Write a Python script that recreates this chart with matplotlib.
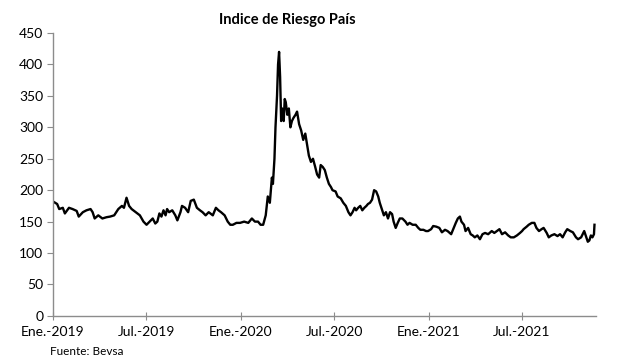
import matplotlib
matplotlib.use("Agg")
import matplotlib.pyplot as plt
import matplotlib.dates as mdates
import pandas as pd

# Days elapsed since 2019-01-01 and index values
days = [0, 8, 12, 19, 23, 31, 38, 46, 50, 58, 65, 73, 77, 81, 88, 96, 104, 111, 119, 127,
        134, 138, 143, 148, 153, 161, 169, 176, 182, 188, 194, 199, 203, 207, 211, 215, 219,
        222, 226, 232, 238, 242, 248, 251, 257, 263, 268, 274, 280, 286, 291, 297, 303, 311,
        317, 322, 327, 334, 340, 345, 350, 357, 364,
        372, 380, 387, 393, 399, 404, 409, 414, 418, 422, 426, 428, 431, 433, 436, 438, 440,
        442, 444, 446, 449, 451, 453, 456, 459, 462, 465, 468, 472, 475, 479, 483, 487, 491,
        495, 498, 502, 506, 510, 514, 518, 521, 525, 529, 533, 537, 541, 544, 550, 554, 560,
        565, 570, 575, 579, 583, 587, 590, 594, 598, 602, 606, 610, 613, 617, 621, 625, 629,
        633, 636, 640, 644, 648, 652, 656, 660, 663, 667, 671, 675, 680, 686, 690, 694, 700,
        706, 711, 715, 721, 726, 730,
        736, 740, 746, 752, 757, 763, 768, 775, 780, 784, 788, 792, 795, 800, 803, 808, 813,
        817, 821, 826, 831, 836, 841, 847, 854, 859, 864, 869, 874, 880, 886, 891, 897, 903,
        909, 913, 916, 922, 926, 932, 937, 941, 946, 951, 955, 961, 965, 970, 976, 982, 987,
        992, 997, 1001, 1007, 1012, 1018, 1022, 1028, 1031, 1034, 1038, 1041, 1044, 1047,
        1050, 1053, 1054]
values = [182, 178, 170, 172, 163, 172, 170, 167, 158, 165, 168, 170, 165, 155, 160, 155, 157,
          158, 160, 170, 175, 172, 188, 175, 170, 165, 160, 150, 145, 150, 155, 147, 150, 163,
          158, 168, 160, 170, 165, 168, 160, 152, 165, 175, 172, 165, 183, 185, 172, 168, 165,
          160, 165, 160, 172, 168, 165, 160, 150, 145, 145, 148, 148,
          150, 148, 155, 150, 150, 145, 145, 160, 190, 180, 220, 210, 250, 300, 350, 400, 420,
          380, 310, 330, 310, 345, 340, 320, 330, 300, 310, 315, 320, 325, 305, 295, 280, 290,
          270, 255, 245, 250, 238, 225, 220, 240, 237, 232, 220, 210, 205, 200, 198, 190, 187,
          180, 175, 165, 160, 165, 172, 168, 172, 175, 168, 172, 175, 178, 180, 185, 200, 198,
          190, 180, 170, 160, 165, 155, 165, 162, 150, 140, 148, 155, 155, 150, 145, 148, 145,
          145, 140, 137, 137, 135, 135,
          138, 143, 142, 140, 133, 137, 135, 130, 140, 148, 155, 158, 150, 145, 135, 140, 130,
          128, 125, 128, 122, 130, 132, 130, 135, 132, 135, 138, 130, 133, 128, 125, 125, 128,
          132, 135, 138, 142, 145, 148, 148, 140, 135, 138, 140, 132, 125, 128, 130, 127, 130,
          125, 133, 138, 135, 133, 125, 122, 125, 130, 135, 125, 118, 120, 128, 125, 130, 145]

tick_dates = ["2019-01-01", "2019-07-01", "2020-01-01", "2020-07-01", "2021-01-01", "2021-07-01"]
tick_labels = ["Ene.-2019", "Jul.-2019", "Ene.-2020", "Jul.-2020", "Ene.-2021", "Jul.-2021"]
y_ticks = [0, 50, 100, 150, 200, 250, 300, 350, 400, 450]

start = pd.Timestamp("2019-01-01")
dates = start + pd.to_timedelta(days, unit="D")

plt.rcParams['font.family'] = ['Lato', 'DejaVu Sans']

fig = plt.figure(figsize=(6.17, 3.59), dpi=100)
ax = fig.add_axes([0.086, 0.12, 0.880, 0.788])
ax.plot(dates, values, color="black", lw=1.7, solid_joinstyle="round")

ax.set_ylim(0, 450)
ax.set_yticks(y_ticks)
ax.set_xlim(start, start + pd.Timedelta(days=1057))
ax.set_xticks(pd.to_datetime(tick_dates))
ax.set_xticklabels(tick_labels)

for s in ["top", "right"]:
    ax.spines[s].set_visible(False)
for s in ["left", "bottom"]:
    ax.spines[s].set_color("#8c8c8c")
    ax.spines[s].set_linewidth(1.0)
ax.tick_params(axis="y", direction="out", length=4, color="#8c8c8c", labelsize=10, pad=3)
ax.tick_params(axis="x", direction="inout", length=6, color="#8c8c8c", labelsize=10, pad=4)

fig.text(0.465, 0.944, "Indice de Riesgo País", ha="center", va="center",
         fontsize=10.5, fontweight="bold")
fig.text(0.081, 0.022, "Fuente: Bevsa", ha="left", va="center", fontsize=8.5)

fig.savefig("out.png", dpi=100)
